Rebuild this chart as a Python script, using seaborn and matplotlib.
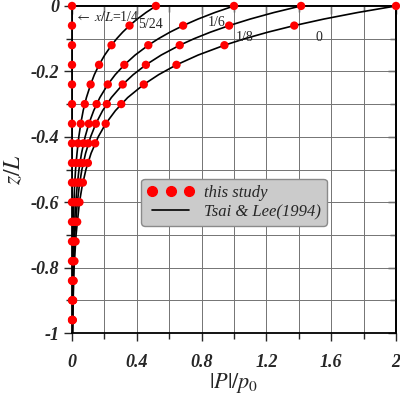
# |P|/p0 versus z/L at several x/L stations: dots (this study) and lines (Tsai & Lee 1994)

import matplotlib
matplotlib.use("Agg")
from matplotlib import pyplot as plt
from matplotlib.lines import Line2D
import numpy as np
import pandas as pd
import seaborn as sns

# stations and their labels
stations = ["0", "1/8", "1/6", "5/24", "1/4"]

# dots: depth levels and |P|/p0
z_dots = [0, -0.06, -0.12, -0.18, -0.24, -0.30, -0.36, -0.42, -0.48, -0.54,
          -0.60, -0.66, -0.72, -0.78, -0.84, -0.90, -0.96]
dots_0 = [2.0, 1.372, 0.941, 0.645, 0.443, 0.304, 0.208, 0.143, 0.098, 0.067,
          0.046, 0.032, 0.022, 0.015, 0.010, 0.007, 0.005]
dots_1_8 = [1.414, 0.970, 0.665, 0.456, 0.313, 0.215, 0.147, 0.101, 0.069, 0.048,
            0.033, 0.022, 0.015, 0.010, 0.007, 0.005, 0.003]
dots_1_6 = [1.0, 0.686, 0.471, 0.323, 0.221, 0.152, 0.104, 0.071, 0.049, 0.034,
            0.023, 0.016, 0.011, 0.007, 0.005, 0.004, 0.002]
dots_5_24 = [0.518, 0.355, 0.244, 0.167, 0.115, 0.079, 0.054, 0.037, 0.025, 0.017,
             0.012, 0.008, 0.006, 0.004, 0.003, 0.002, 0.001]
dots_1_4 = [0.0] * 17

# lines (Tsai & Lee 1994)
z_line = [0, -0.02, -0.04, -0.06, -0.08, -0.10, -0.12, -0.15, -0.18, -0.21, -0.24,
          -0.28, -0.32, -0.36, -0.40, -0.45, -0.50, -0.55, -0.60, -0.70, -0.80, -0.90, -1.0]
line_0 = [2.0, 1.764, 1.555, 1.372, 1.210, 1.067, 0.941, 0.779, 0.645, 0.535, 0.443,
          0.344, 0.268, 0.208, 0.162, 0.118, 0.086, 0.063, 0.046, 0.025, 0.013, 0.007, 0.004]
line_1_8 = [1.414, 1.247, 1.100, 0.970, 0.855, 0.754, 0.665, 0.551, 0.456, 0.378, 0.313,
            0.243, 0.189, 0.147, 0.115, 0.084, 0.061, 0.045, 0.033, 0.017, 0.009, 0.005, 0.003]
line_1_6 = [1.0, 0.882, 0.778, 0.686, 0.605, 0.534, 0.471, 0.390, 0.323, 0.267, 0.221,
            0.172, 0.134, 0.104, 0.081, 0.059, 0.043, 0.032, 0.023, 0.012, 0.007, 0.004, 0.002]
line_5_24 = [0.518, 0.457, 0.403, 0.355, 0.313, 0.276, 0.244, 0.202, 0.167, 0.138, 0.115,
             0.089, 0.069, 0.054, 0.042, 0.031, 0.022, 0.016, 0.012, 0.006, 0.003, 0.002, 0.001]
line_1_4 = [0.0] * 23

x_ticks = [0, 0.4, 0.8, 1.2, 1.6, 2]
x_ticklabels = ["0", "0.4", "0.8", "1.2", "1.6", "2"]
y_ticks = [0, -0.2, -0.4, -0.6, -0.8, -1]
y_ticklabels = ["0", "-0.2", "-0.4", "-0.6", "-0.8", "-1"]

sns.set_style("white")
plt.rcParams["font.family"] = ["Liberation Serif", "DejaVu Serif"]
plt.rcParams["mathtext.fontset"] = "stix"
plt.rcParams["axes.unicode_minus"] = False

dots = {"0": dots_0, "1/8": dots_1_8, "1/6": dots_1_6, "5/24": dots_5_24, "1/4": dots_1_4}
lines = {"0": line_0, "1/8": line_1_8, "1/6": line_1_6, "5/24": line_5_24, "1/4": line_1_4}

df_dots = pd.concat([pd.DataFrame({"P": dots[s], "z": z_dots, "x/L": s}) for s in stations])

fig = plt.figure(figsize=(4, 3.97), dpi=100)
ax = fig.add_axes([0.18, 0.161, 0.81, 0.824])

# grid
ax.set_xticks(np.arange(0, 2.01, 0.2), minor=True)
ax.set_yticks(np.arange(-1, 0.01, 0.1), minor=True)
ax.grid(which="minor", color="0.45", lw=0.7)
ax.grid(which="major", color="0.45", lw=0.7)

for s in stations:
    sns.lineplot(x=lines[s], y=z_line, color="black", lw=1.2, sort=False,
                 estimator=None, ax=ax, zorder=3)

sns.scatterplot(data=df_dots, x="P", y="z", color="red", s=36,
                edgecolor="none", ax=ax, zorder=4, clip_on=False, legend=False)

ax.set_xlim(0, 2)
ax.set_ylim(-1, 0)
ax.set_xticks(x_ticks)
ax.set_xticklabels(x_ticklabels)
ax.set_yticks(y_ticks)
ax.set_yticklabels(y_ticklabels)
for lab in ax.get_xticklabels() + ax.get_yticklabels():
    lab.set_fontweight("bold")
    lab.set_fontstyle("italic")
    lab.set_fontsize(13)

# outward ticks on left/bottom
ax.tick_params(which="both", left=True, bottom=True, top=False, right=False)
ax.tick_params(axis="x", which="both", direction="out", pad=9)
ax.tick_params(axis="y", which="both", direction="out", pad=3)
ax.tick_params(which="major", length=6, width=1)
ax.tick_params(which="minor", length=4, width=1)

# inward ticks on top/right
top = ax.secondary_xaxis("top")
top.set_xticks(x_ticks)
top.set_xticks(np.arange(0, 2.01, 0.2), minor=True)
top.tick_params(which="both", direction="in", labeltop=False)
top.tick_params(which="major", length=6, width=1)
top.tick_params(which="minor", length=4, width=1)
right = ax.secondary_yaxis("right")
right.set_yticks(y_ticks)
right.set_yticks(np.arange(-1, 0.01, 0.1), minor=True)
right.tick_params(which="both", direction="in", labelright=False)
right.tick_params(which="major", length=6, width=1)
right.tick_params(which="minor", length=4, width=1)
for a in (ax, top, right):
    for sp in a.spines.values():
        sp.set_color("black")
        sp.set_linewidth(1.3)

ax.set_xlabel(r"$|P|/p_0$", fontsize=16, labelpad=0)
ax.set_ylabel(r"$z/L$", fontsize=17, labelpad=4)

# station labels
ax.text(0.012, -0.034, r"$\leftarrow$ $x/L$=1/4", fontsize=10, va="center")
ax.text(0.41, -0.058, "5/24", fontsize=10, va="center")
ax.text(0.835, -0.05, "1/6", fontsize=10, va="center")
ax.text(1.01, -0.095, "1/8", fontsize=10, va="center")
ax.text(1.505, -0.095, "0", fontsize=10, va="center")

handles = [Line2D([], [], ls="none", marker="o", color="red", markersize=7),
           Line2D([], [], color="black", lw=1.2)]
leg = ax.legend(handles, ["this study", "Tsai & Lee(1994)"],
                loc="center", bbox_to_anchor=(0.5, 0.4), fancybox=True,
                facecolor="#cbcbcb", edgecolor="#8a8a8a", framealpha=1,
                prop={"style": "italic", "size": 12}, handlelength=2.8,
                numpoints=3, labelspacing=0.2, borderpad=0.35, handletextpad=0.6)
leg.get_frame().set_linewidth(1)

plt.savefig("out.png", dpi=100)
